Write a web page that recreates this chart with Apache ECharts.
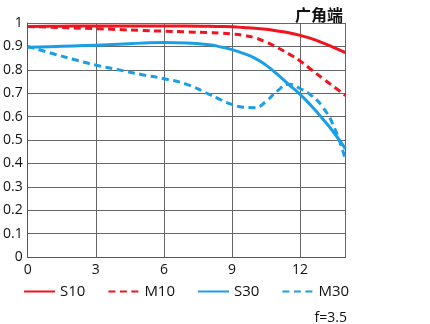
<!DOCTYPE html>
<html>
<head>
<meta charset="utf-8">
<script src="https://cdn.jsdelivr.net/npm/echarts@6/dist/echarts.min.js"></script>
<style>
  html, body { margin: 0; padding: 0; background: #fff; }
  #chart { width: 430px; height: 324px; }
</style>
</head>
<body>
<div id="chart"></div>
<script>
// Image height (mm) at which MTF is sampled
const imageHeight = [0, 1, 2, 3, 4, 5, 6, 7, 8, 8.5, 9, 9.5, 10, 10.5, 11, 11.5, 12, 12.5, 13, 13.5, 14];

// Contrast values, 10 lp/mm and 30 lp/mm, sagittal (S) and meridional (M)
const s10 = [0.985, 0.986, 0.987, 0.987, 0.987, 0.987, 0.987, 0.987, 0.986, 0.985, 0.984, 0.981, 0.978, 0.973, 0.966, 0.958, 0.947, 0.933, 0.915, 0.895, 0.873];
const m10 = [0.985, 0.982, 0.979, 0.976, 0.972, 0.968, 0.965, 0.962, 0.959, 0.957, 0.953, 0.947, 0.937, 0.918, 0.895, 0.868, 0.838, 0.800, 0.763, 0.727, 0.690];
const s30 = [0.896, 0.899, 0.902, 0.905, 0.909, 0.914, 0.917, 0.915, 0.907, 0.898, 0.886, 0.870, 0.850, 0.820, 0.780, 0.737, 0.695, 0.645, 0.590, 0.530, 0.462];
const m30 = [0.900, 0.872, 0.845, 0.820, 0.800, 0.780, 0.762, 0.738, 0.695, 0.672, 0.652, 0.640, 0.638, 0.665, 0.710, 0.738, 0.720, 0.690, 0.640, 0.555, 0.415];

const seriesNames = ['S10', 'M10', 'S30', 'M30'];
const xTicks = [0, 3, 6, 9, 12];

const RED = '#f0141e';
const BLUE = '#1a9fe6';
const FONT = '"Open Sans", "Noto Sans", sans-serif';

function pairs(ys) {
  return imageHeight.map((x, i) => [x, ys[i]]);
}

function lineSeries(name, ys, color, dashed) {
  return {
    name: name,
    type: 'line',
    data: pairs(ys),
    smooth: 0.5,
    symbol: 'none',
    lineStyle: { color: color, width: 3, type: dashed ? [7, 4.5] : 'solid', cap: 'butt', join: 'round' },
    itemStyle: { color: color },
    z: 3
  };
}

const chart = echarts.init(document.getElementById('chart'), null, { renderer: 'canvas' });

chart.setOption({
  animation: false,
  backgroundColor: '#fff',
  grid: { left: 26, right: 84.5, top: 23, bottom: 67, containLabel: false },
  title: [
    {
      text: '广角端',
      right: 82, top: 2,
      textStyle: { fontFamily: '"Noto Sans CJK SC", sans-serif', fontSize: 16, fontWeight: 'bold', color: '#111' }
    },
    {
      text: 'f=3.5',
      right: 78, top: 306,
      textStyle: { fontFamily: FONT, fontSize: 14, fontWeight: 'normal', color: '#111' }
    }
  ],
  legend: {
    data: seriesNames,
    orient: 'horizontal',
    left: 18, top: 279,
    itemWidth: 31, itemHeight: 14, itemGap: 22,
    itemStyle: { opacity: 0 },
    textStyle: { fontFamily: FONT, fontSize: 15, color: '#111' }
  },
  xAxis: {
    type: 'value',
    min: 0, max: 14, interval: 3,
    axisLine: { show: true, lineStyle: { color: '#555', width: 1 } },
    axisTick: { show: false },
    splitLine: { show: true, lineStyle: { color: '#666', width: 1 } },
    axisLabel: {
      color: '#111', fontFamily: FONT, fontSize: 14, margin: 6,
      showMaxLabel: false,
      formatter: v => (xTicks.indexOf(v) >= 0 ? String(v) : '')
    }
  },
  yAxis: {
    type: 'value',
    min: 0, max: 1, interval: 0.1,
    axisLine: { show: true, lineStyle: { color: '#555', width: 1 } },
    axisTick: { show: false },
    splitLine: { show: true, lineStyle: { color: '#666', width: 1 } },
    axisLabel: {
      color: '#111', fontFamily: FONT, fontSize: 14, margin: 5,
      formatter: v => String(+v.toFixed(1))
    }
  },
  series: [
    lineSeries('S10', s10, RED, false),
    lineSeries('M10', m10, RED, true),
    lineSeries('S30', s30, BLUE, false),
    lineSeries('M30', m30, BLUE, true)
  ]
});
</script>
</body>
</html>
